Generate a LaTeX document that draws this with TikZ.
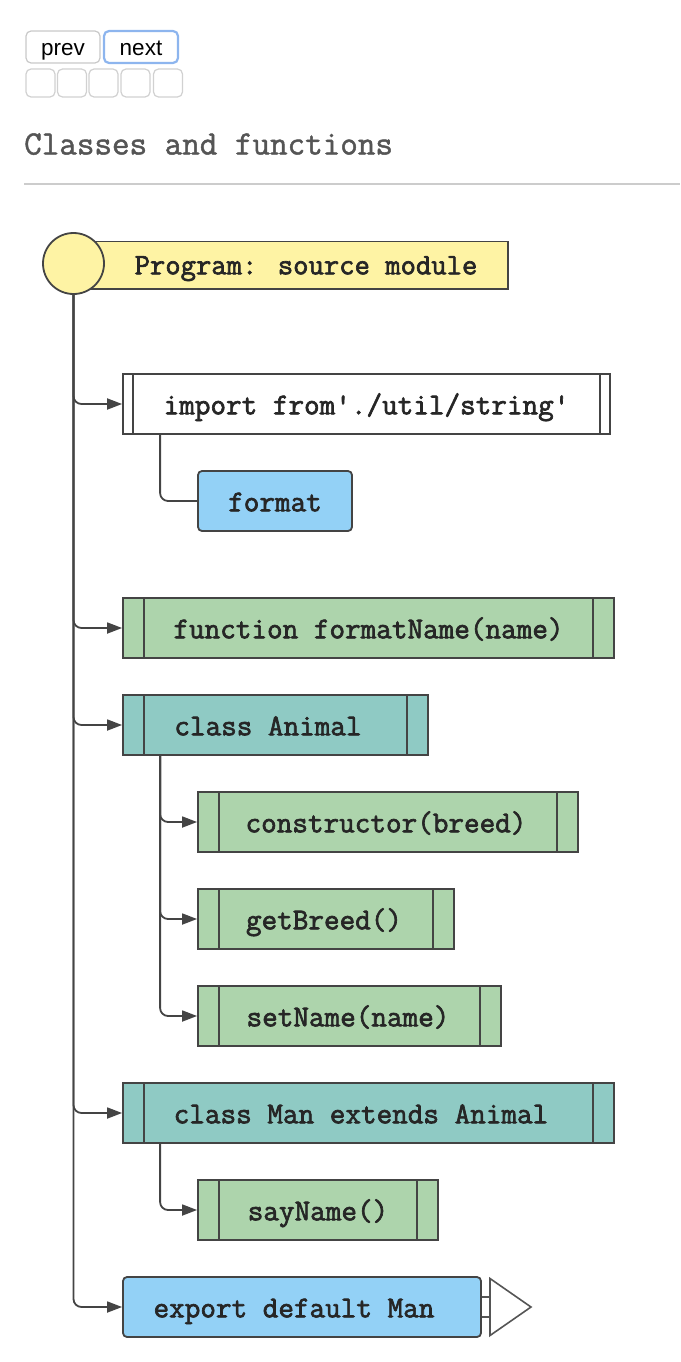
\documentclass[tikz,border=0pt]{standalone}
\usepackage{fontspec}
\setmainfont{Liberation Sans}
\newfontfamily\codefont[FakeBold=2.2]{Latin Modern Mono}
\newfontfamily\titlefont[FakeBold=1.4]{Latin Modern Mono}
\usetikzlibrary{arrows.meta}
\definecolor{ink}{HTML}{444444}
\definecolor{progyellow}{HTML}{FEF3A4}
\definecolor{codeblue}{HTML}{93D1F6}
\definecolor{codegreen}{HTML}{ADD4AC}
\definecolor{codeteal}{HTML}{8FCAC4}
\definecolor{btnborder}{HTML}{C9C9C9}
\definecolor{btnblue}{HTML}{8DB5EE}
\definecolor{titlegray}{HTML}{555555}
\definecolor{rulegray}{HTML}{CCCCCC}
\definecolor{trigray}{HTML}{555555}
\begin{document}
\begin{tikzpicture}[x=1pt,y=-1pt,
  box/.style={draw=ink, line width=1.8pt, minimum height=60pt, inner sep=0pt,
    font=\codefont\fontsize{30.3pt}{32pt}\selectfont, text=black!85,
    text height=25.6pt, text depth=5pt},
  bars/.style={path picture={\draw[ink, line width=1.6pt]
    ([xshift=#1]path picture bounding box.north west) -- ([xshift=#1]path picture bounding box.south west)
    ([xshift=-#1]path picture bounding box.north east) -- ([xshift=-#1]path picture bounding box.south east);}},
  tshift/.style={execute at begin node={\kern-#1pt}, execute at end node={\kern#1pt}},
  funcbox/.style={box, fill=codegreen, bars=21pt},
  classbox/.style={box, fill=codeteal, bars=21pt},
  valbox/.style={box, fill=codeblue, rounded corners=4pt},
  conn/.style={draw=ink, line width=1.8pt, rounded corners=8pt, -{Triangle[length=15pt,width=11pt]}},
  link/.style={draw=ink, line width=1.8pt, rounded corners=8pt},
  btn/.style={draw=btnborder, line width=1.2pt, rounded corners=5pt, fill=white, inner sep=0pt,
    font=\fontsize{22.5pt}{26pt}\selectfont, text height=20pt, text depth=2pt},
  smallbtn/.style={draw=btnborder!85, line width=1.2pt, rounded corners=5pt, fill=white,
    minimum width=29pt, minimum height=28pt, inner sep=0pt},
]
\useasboundingbox (0,0) rectangle (680,1362);

% top controls
\node[btn, minimum width=74pt, minimum height=32pt] (prev) at (63,47) {prev};
\node[btn, draw=btnblue, line width=2.2pt, minimum width=74pt, minimum height=32pt] (next) at (141,47) {next};
\node[smallbtn] (s1) at (40.5,83) {};
\node[smallbtn] (s2) at (72,83) {};
\node[smallbtn] (s3) at (103.5,83) {};
\node[smallbtn] (s4) at (135.5,83) {};
\node[smallbtn] (s5) at (168,83) {};

% title
\node[anchor=base west, inner sep=0pt, font=\titlefont\fontsize{34.1pt}{36pt}\selectfont, text=titlegray] (title) at (24,154.5) {Classes and functions};
\draw[rulegray, line width=1.5pt] (24,184) -- (680,184);

% program
\node[draw=ink, line width=1.8pt, fill=progyellow, minimum width=434pt, minimum height=47.5pt, inner sep=0pt,
  font=\codefont\fontsize{29.8pt}{32pt}\selectfont, text=black!85, text height=23pt, text depth=5pt,
  tshift=-15] (prog) at (291,265.3) {Program: source module};
\node[circle, draw=ink, line width=1.8pt, fill=progyellow, minimum size=61pt, inner sep=0pt] (root) at (73.5,263.5) {};

% nodes
\node[box, fill=white, bars=10pt, minimum width=487pt] (imp) at (366.5,404) {import from'./util/string'};
\node[valbox, minimum width=154pt] (fmt) at (275,501) {format};
\node[funcbox, minimum width=491pt] (fn) at (368.5,628) {function formatName(name)};
\node[classbox, minimum width=305pt, tshift=7.5] (ca) at (275.5,725) {class Animal};
\node[funcbox, minimum width=380pt, tshift=2] (ctor) at (388,822) {constructor(breed)};
\node[funcbox, minimum width=256pt, tshift=2] (gb) at (326,919) {getBreed()};
\node[funcbox, minimum width=303pt, tshift=1.5] (sn) at (349.5,1016) {setName(name)};
\node[classbox, minimum width=491pt, tshift=7.5] (cm) at (368.5,1113) {class Man extends Animal};
\node[funcbox, minimum width=240pt] (say) at (318,1210) {sayName()};
\node[valbox, minimum width=358pt, tshift=8] (exp) at (302,1307) {export default Man};

% connectors from root
\draw[conn] (root.south) |- (imp.west);
\draw[conn] (root.south) |- (fn.west);
\draw[conn] (root.south) |- (ca.west);
\draw[conn] (root.south) |- (cm.west);
\draw[conn] (root.south) |- (exp.west);

% import children
\draw[link] ([xshift=38pt]imp.south west) |- (fmt.west);
% class Animal children
\draw[conn] ([xshift=38pt]ca.south west) |- (ctor.west);
\draw[conn] ([xshift=38pt]ca.south west) |- (gb.west);
\draw[conn] ([xshift=38pt]ca.south west) |- (sn.west);
% class Man children
\draw[conn] ([xshift=38pt]cm.south west) |- (say.west);

% export marker
\coordinate (tri) at (490,1307);
\draw[trigray, line width=1.6pt] ([yshift=10pt]exp.east) -- ([yshift=10pt]tri)
  ([yshift=-10pt]exp.east) -- ([yshift=-10pt]tri);
\draw[trigray, line width=1.6pt, fill=white, line join=miter] ([yshift=28.5pt]tri) -- ([xshift=41pt]tri) -- ([yshift=-28.5pt]tri) -- cycle;
\end{tikzpicture}
\end{document}
